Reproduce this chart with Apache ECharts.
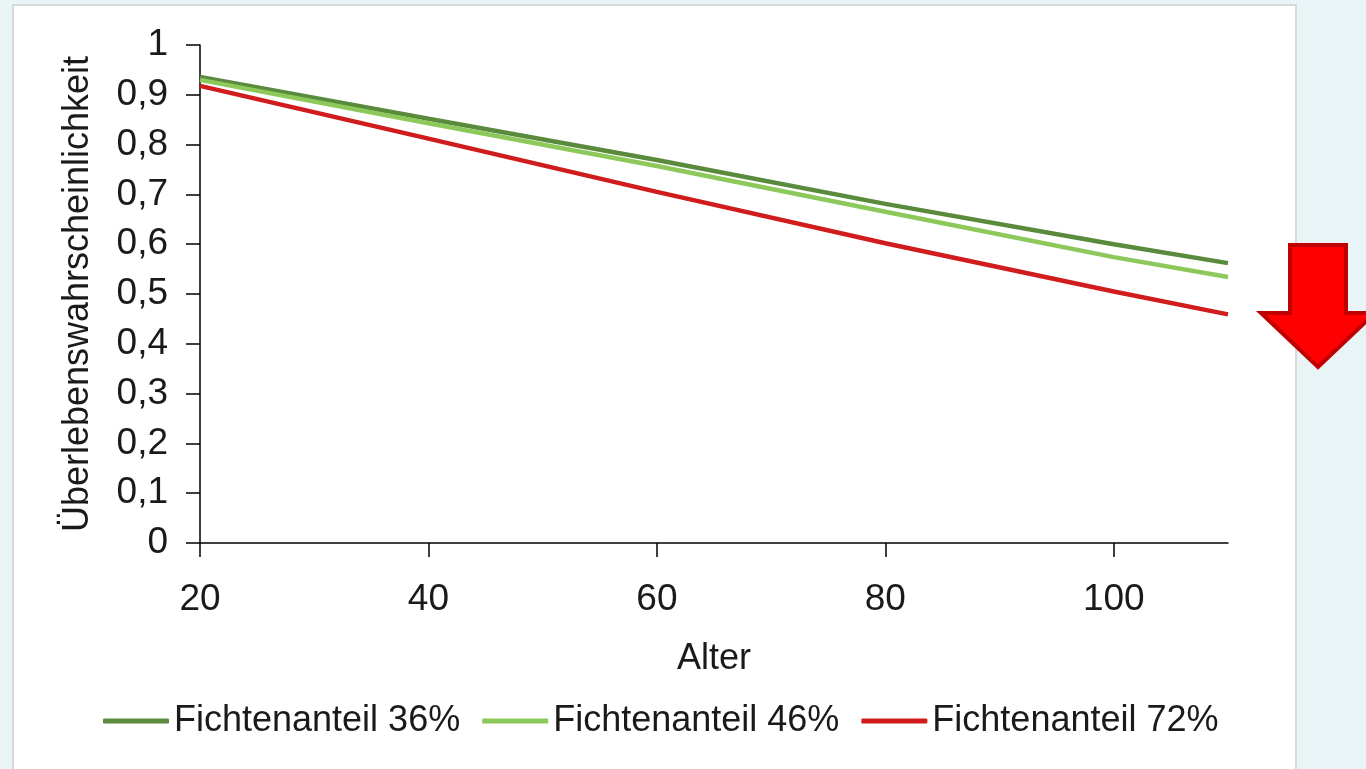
<!DOCTYPE html>
<html><head><meta charset="utf-8">
<script src="https://cdn.jsdelivr.net/npm/echarts@6/dist/echarts.min.js"></script>
<style>html,body{margin:0;padding:0;background:#e9f4f6;}#c{width:1366px;height:769px;}</style>
</head><body><div id="c"></div>
<script>
const ages = [20, 40, 60, 80, 100, 110];
const fichte36 = [0.936, 0.852, 0.769, 0.681, 0.600, 0.562];
const fichte46 = [0.930, 0.843, 0.757, 0.665, 0.574, 0.534];
const fichte72 = [0.918, 0.812, 0.705, 0.602, 0.505, 0.459];
const seriesNames = ['Fichtenanteil 36%', 'Fichtenanteil 46%', 'Fichtenanteil 72%'];
const seriesColors = ['#5a8a3c', '#8cc85a', '#d01c1c'];
const yTicks = [0, 0.1, 0.2, 0.3, 0.4, 0.5, 0.6, 0.7, 0.8, 0.9, 1];

const FONT = '"Liberation Sans", sans-serif';
const chart = echarts.init(document.getElementById('c'));
const toPairs = arr => ages.map((a, i) => [a, arr[i]]);
const dataSets = [fichte36, fichte46, fichte72];

chart.setOption({
  backgroundColor: 'transparent',
  animation: false,
  graphic: [
    { type: 'rect', z: -10, shape: { x: 13, y: 5, width: 1283, height: 780 },
      style: { fill: '#ffffff', stroke: '#d9d9d9', lineWidth: 2 } },
    { type: 'polygon', z: 10,
      shape: { points: [[1290,245],[1346,245],[1346,313],[1375,313],[1318,367],[1261,313],[1290,313]] },
      style: { fill: '#ff0000', stroke: '#c00000', lineWidth: 4, lineJoin: 'miter' } }
  ],
  grid: { left: 200, right: 138, top: 45, bottom: 226, containLabel: false },
  legend: {
    bottom: 25, left: 98, itemWidth: 66, itemHeight: 5, itemGap: 22,
    icon: 'roundRect',
    textStyle: { fontFamily: FONT, fontSize: 36, color: '#1a1a1a' },
    data: seriesNames
  },
  xAxis: {
    type: 'value', min: 20, max: 110, interval: 20,
    name: 'Alter', nameLocation: 'middle', nameGap: 98,
    nameTextStyle: { fontFamily: FONT, fontSize: 36, color: '#1a1a1a' },
    axisLine: { show: true, lineStyle: { color: '#000', width: 1.5 } },
    axisTick: { show: true, length: 14, lineStyle: { color: '#000', width: 1.5 } },
    axisLabel: { fontFamily: FONT, fontSize: 37, color: '#1a1a1a', margin: 38, showMaxLabel: false },
    splitLine: { show: false }
  },
  yAxis: {
    type: 'value', min: 0, max: 1, interval: 0.1,
    name: 'Überlebenswahrscheinlichkeit', nameLocation: 'middle', nameGap: 104, nameRotate: 90,
    nameTextStyle: { fontFamily: FONT, fontSize: 36, color: '#1a1a1a' },
    axisLine: { show: true, lineStyle: { color: '#000', width: 1.5 } },
    axisTick: { show: true, length: 14, lineStyle: { color: '#000', width: 1.5 } },
    axisLabel: { fontFamily: FONT, fontSize: 37, color: '#1a1a1a', margin: 32,
      formatter: v => { const t = yTicks.find(x => Math.abs(x - v) < 1e-9); return String(+((t ?? v).toFixed(1))).replace('.', ','); } },
    splitLine: { show: false }
  },
  series: seriesNames.map((n, i) => ({
    name: n, type: 'line', data: toPairs(dataSets[i]), showSymbol: false, symbol: 'none',
    lineStyle: { width: 4.5, color: seriesColors[i] }, itemStyle: { color: seriesColors[i] }
  }))
});
</script></body></html>
